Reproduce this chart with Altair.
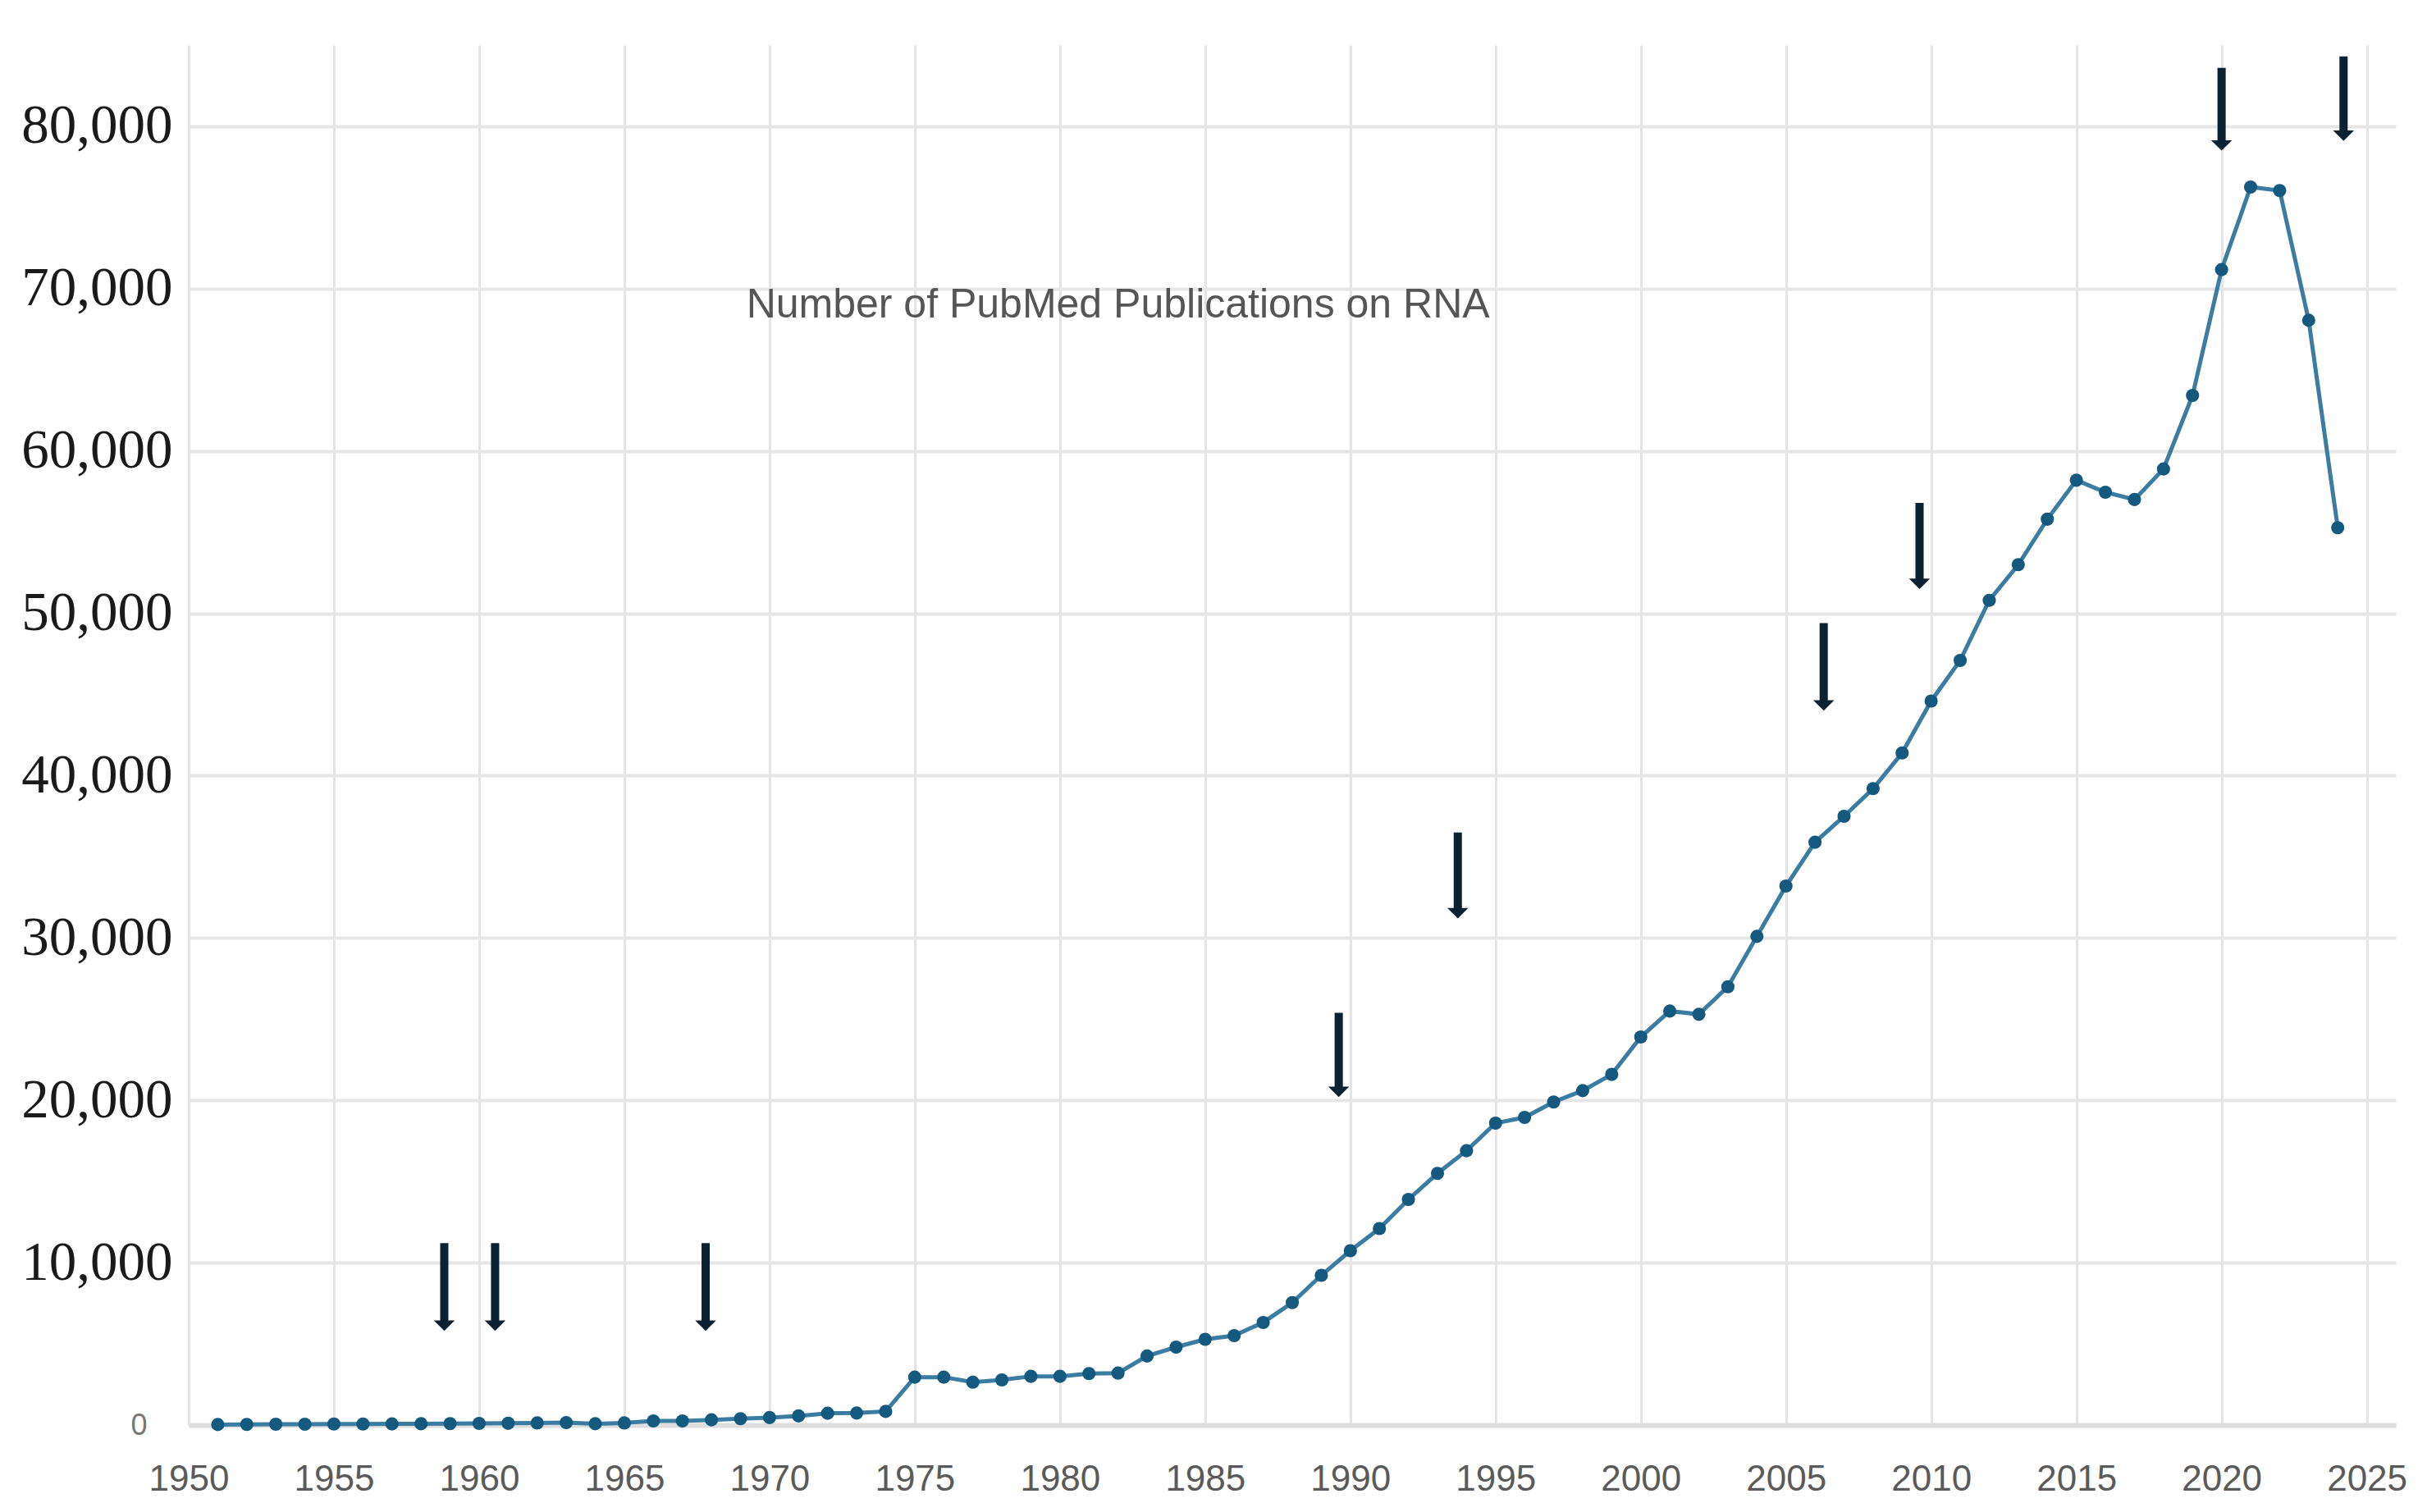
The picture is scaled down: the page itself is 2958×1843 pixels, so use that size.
import altair as alt
import pandas as pd

# ---- data ----
years = list(range(1951, 2025))
publications = [
    30, 40, 50, 50, 60, 60, 70, 80, 90, 100,            # 1951-1960
    110, 130, 150, 80, 130, 250, 250, 320, 390, 460,    # 1961-1970
    560, 725, 740, 840, 2950, 2950, 2640, 2780, 3000, 3000,   # 1971-1980
    3170, 3200, 4250, 4800, 5280, 5510, 6320, 7540, 9220, 10740,  # 1981-1990
    12100, 13900, 15500, 16900, 18600, 18950, 19900, 20600, 21600, 23900,  # 1991-2000
    25500, 25300, 27000, 30100, 33200, 35900, 37500, 39200, 41400, 44600,  # 2001-2010
    47100, 50800, 53000, 55800, 58200, 57460, 57010, 58890, 63420, 71170,  # 2011-2020
    76260, 76040, 68050, 55270,                          # 2021-2024
]

arrow_years = [1958.8, 1960.55, 1967.8, 1989.6, 1993.7, 2006.3, 2009.6, 2020.0, 2024.2]
arrow_tops = [11200, 11200, 11200, 25400, 36500, 49400, 56800, 83600, 84300]
arrow_tips = [5800, 5800, 5800, 20200, 31200, 44000, 51500, 78500, 79100]

note_text = ["Number of PubMed Publications on RNA"]
note_year = [1982.0]
note_value = [68200]

x_ticks = [1950, 1955, 1960, 1965, 1970, 1975, 1980, 1985, 1990, 1995, 2000, 2005, 2010, 2015, 2020, 2025]
y_ticks = [0, 10000, 20000, 30000, 40000, 50000, 60000, 70000, 80000]

series = pd.DataFrame({"year": years, "pubs": publications})
arrows = pd.DataFrame({"year": arrow_years, "top": arrow_tops, "tip": arrow_tips})
notes = pd.DataFrame({"text": note_text, "year": note_year, "value": note_value})

x_scale = alt.Scale(domain=[1950, 2026], nice=False, zero=False)
y_scale = alt.Scale(domain=[0, 85000], nice=False)

x_axis = alt.Axis(
    values=x_ticks, format="d", title=None, ticks=False,
    grid=True, gridColor="#e4e4e4", gridWidth=3,
    domain=True, domainColor="#dedede", domainWidth=6,
    labelFont="Liberation Sans", labelFontSize=44, labelColor="#5a5a5a",
    labelPadding=44, labelFlush=False, labelLimit=0,
)
y_axis = alt.Axis(
    values=y_ticks, format=",d", title=None, ticks=False, domain=False,
    grid=True, gridColor="#e6e6e6", gridWidth=4, labelLimit=0,
    labelFont={"condition": {"test": "datum.value === 0", "value": "Liberation Sans"}, "value": "Liberation Serif"},
    labelFontSize={"condition": {"test": "datum.value === 0", "value": 36}, "value": 67},
    labelColor={"condition": {"test": "datum.value === 0", "value": "#777777"}, "value": "#1a1a1a"},
    labelPadding={"condition": {"test": "datum.value === 0", "value": 51}, "value": 20},
)

base = alt.Chart(series)

line = base.mark_line(color="#3a7ca2", strokeWidth=5).encode(
    x=alt.X("year:Q", scale=x_scale, axis=x_axis),
    y=alt.Y("pubs:Q", scale=y_scale, axis=y_axis),
)
points = base.mark_point(filled=True, color="#15597f", size=260, opacity=1, shape="circle").encode(
    x=alt.X("year:Q", scale=x_scale),
    y=alt.Y("pubs:Q", scale=y_scale),
)

shafts = alt.Chart(arrows).mark_rule(color="#0c2233", strokeWidth=10, y2Offset=-11).encode(
    x=alt.X("year:Q", scale=x_scale),
    y=alt.Y("top:Q", scale=y_scale),
    y2="tip:Q",
)
heads = alt.Chart(arrows).mark_point(
    filled=True, color="#0c2233", opacity=1, size=650,
    shape="M-1,-1L1,-1L0,0Z",
).encode(
    x=alt.X("year:Q", scale=x_scale),
    y=alt.Y("tip:Q", scale=y_scale),
)

note = alt.Chart(notes).mark_text(
    font="Liberation Sans", fontSize=50, color="#555555",
    align="center", baseline="alphabetic",
).encode(
    x=alt.X("year:Q", scale=x_scale),
    y=alt.Y("value:Q", scale=y_scale),
    text="text:N",
)

chart = alt.layer(line, points, shafts, heads, note).properties(
    width=2690, height=1682,
    padding={"left": 222, "top": 47, "right": 30, "bottom": 98},
    autosize=alt.AutoSizeParams(type="none"),
    background="white",
).configure_view(stroke=None)

chart.save("out.html", embed_options={"renderer": "svg", "actions": False})
